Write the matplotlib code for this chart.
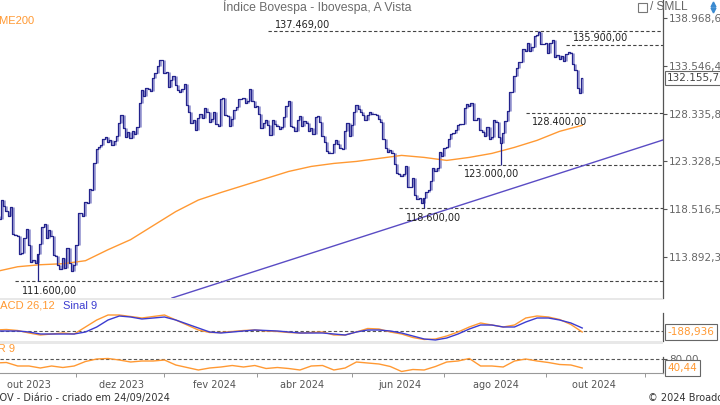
import numpy as np
import pandas as pd
import matplotlib
matplotlib.use("Agg")
import matplotlib.pyplot as plt
from matplotlib.patches import Rectangle
from matplotlib.lines import Line2D
from matplotlib.ticker import FixedLocator, FixedFormatter, NullLocator

# calendario de pregoes da B3
feriados = ["2023-09-07", "2023-10-12", "2023-11-02", "2023-11-15", "2023-12-25",
            "2023-12-29", "2024-01-01", "2024-02-12", "2024-02-13", "2024-03-29",
            "2024-05-01", "2024-05-30", "2024-11-15", "2024-11-20"]
inicio = "2023-09-11"

# fechamentos diarios (pontos)
fechamento = [
    # set/2023
    118000, 117800, 117600, 119400, 118800, 118300, 117800, 118700, 116100, 116000,
    115900, 114200, 114300, 115700, 116600,
    # out
    115060, 113420, 113610, 113280, 114170, 115160, 116740, 117050, 115750, 116530,
    115910, 114060, 114000, 113160, 112780, 113760, 112830, 114780, 113300, 112530,
    113140,
    # nov
    115050, 118160, 118160, 117800, 119270, 119180, 120570, 120410, 123170, 124640,
    124770, 125000, 125600, 125900, 125300, 125500, 125000, 125400, 126000, 127330,
    # dez
    128190, 126800, 125900, 126400, 125800, 126500, 126200, 126900, 129470, 130840,
    130200, 131080, 131000, 130800, 132180, 132750, 133530, 134190, 134190,
    # jan/2024
    132700, 132830, 131230, 132020, 132430, 131450, 130840, 130650, 130990, 131520,
    129290, 128520, 127320, 127640, 126600, 127820, 128260, 127820, 128970, 128500,
    127400, 127750,
    # fev
    128480, 127180, 126970, 129950, 130000, 128220, 128030, 127000, 127800, 128730,
    129040, 129920, 129900, 130000, 129420, 129670, 131000, 129700, 129020,
    # mar
    129180, 128340, 126800, 127320, 127660, 127070, 126120, 127670, 127240, 126980,
    126740, 126950, 128000, 129130, 129720, 127030, 126920, 126530, 127690, 128110,
    # abr
    127000, 127550, 127320, 126510, 126800, 126200, 128000, 128100, 127400, 125950,
    125330, 124390, 124170, 124200, 125120, 125570, 125150, 124740, 124650, 126530,
    127350, 125920,
    # mai
    127120, 128510, 129210, 128800, 128480, 128190, 127600, 128160, 128510, 128280,
    128280, 128150, 127750, 127410, 125650, 124730, 124310, 124500, 124200, 123020,
    122100,
    # jun
    122030, 121800, 122000, 122900, 120770, 120760, 121640, 119940, 119570, 119660,
    119140, 119630, 120260, 120450, 121340, 122640, 122330, 122640, 124310, 123910,
    # jul
    124720, 124790, 125660, 126160, 126270, 126550, 127110, 127220, 127220, 128900,
    129320, 129110, 129450, 127650, 127620, 127860, 126590, 126420, 125950, 126900,
    125700, 125900, 127650,
    # ago
    127400, 125850, 125270, 126270, 127510, 128660, 130620, 130630, 132400, 133320,
    133950, 134000, 135400, 135170, 136090, 135170, 135610, 136890, 137030, 137340,
    136040, 136000,
    # set
    136110, 134940, 136110, 136500, 134570, 134740, 134320, 134680, 134030, 134880,
    135120, 134960, 133750, 133120, 131070, 130570, 132155.76,
]

# MME200 lida a cada 10 pregoes
mme200 = [112504, 112975, 113164, 113258, 113543, 114589, 115551, 116910, 118283,
          119426, 120176, 120880, 121589, 122301, 122813, 123121, 123326, 123636,
          123946, 123739, 123430, 123739, 124153, 124777, 125508, 126454, 127091]

# MACD 26,12 / Sinal 9 / IFR 9 lidos a cada 5 pregoes
macd = [187, 280, 94, -374, -748, -561, -374, -561, 748, 2057,
        2992, 2992, 2712, 2431, 2712, 2992, 2057, 1122, 187, -281,
        -281, -94, 94, 187, 0, -94, -281, -374, -281, -187,
        -748, -748, -187, 468, 374, -187, -561, -1216, -1590, -1496,
        -935, -187, 748, 1496, 1122, 748, 1122, 2431, 2805, 2618,
        2150, 1215, -188.936]
sinal = [0, 0, 0, -187, -561, -561, -561, -561, -187, 748,
         2057, 2805, 2618, 2244, 2431, 2618, 2057, 1309, 561, -187,
         -374, -187, 0, 187, 94, 0, -187, -374, -374, -374,
         -561, -748, -187, 187, 187, 0, -374, -935, -1496, -1683,
         -1309, -561, 374, 1122, 1122, 748, 748, 1683, 2431, 2431,
         2057, 1496, 561]
ifr = [62.4, 64.6, 49.2, 49.2, 40.4, 49.2, 42.6, 49.2, 69.0, 80.0,
       82.2, 75.6, 66.8, 71.2, 71.2, 75.6, 53.6, 42.6, 31.6, 40.4,
       44.8, 51.4, 44.8, 51.4, 38.2, 42.6, 38.2, 31.6, 49.2, 51.4,
       31.6, 40.4, 66.8, 62.4, 58.0, 47.0, 25.0, 33.8, 31.6, 47.0,
       66.8, 71.2, 82.2, 49.2, 49.2, 44.8, 71.2, 80.0, 71.2, 64.6,
       55.8, 53.6, 40.44]

# suportes / resistencias
niveis = [137469, 135900, 128400, 123000, 118600, 111600]
niveis_inicio = ["2024-03-08", "2024-09-13", "2024-08-20", "2024-07-09",
                 "2024-06-03", "2023-09-22"]
niveis_acima = [True, True, False, False, False, False]

# pavios dos extremos marcados
extremos_data = ["2023-10-06", "2024-06-18", "2024-08-05", "2024-08-28"]
extremos_valor = [111600, 118600, 123000, 137469]

# linha de tendencia
tendencia_data = ["2024-01-05", "2024-11-05"]
tendencia_valor = [110050, 125110]

escala_precos = [113892.34, 118516.55, 123328.51, 128335.85, 133546.49, 138968.69]
meses = ["jan", "fev", "mar", "abr", "mai", "jun", "jul", "ago", "set", "out", "nov", "dez"]

AZUL = "#23238c"
LAVANDA = "#9d9dd4"
LARANJA = "#ff9933"
ROXO = "#5a4cc4"
AZUL_SINAL = "#3c3cd0"
CINZA = "#555555"

W, H = 720, 405


def caixa(x0, y0, x1, y1):
    return [x0 / W, 1 - y1 / H, (x1 - x0) / W, (y1 - y0) / H]


def br(v, casas=2):
    s = f"{v:,.{casas}f}"
    return s.replace(",", "X").replace(".", ",").replace("X", ".")


calendario = pd.bdate_range(inicio, "2024-11-29", freq="C", holidays=feriados)


def pos(d):
    return calendario.get_loc(pd.Timestamp(d))


n = len(fechamento)
x = np.arange(n)
f = np.array(fechamento, dtype=float)
x_ind = np.arange(0, n, 5)
x_mme = np.arange(0, n, 10)

px_dia = 2.258
x_esq = pos("2023-10-02") - 29 / px_dia
x_dir = pos("2023-10-02") + (663 - 29) / px_dia

fig = plt.figure(figsize=(7.2, 4.05), dpi=100)
ax = fig.add_axes(caixa(0, 0, 663, 298))
ax_macd = fig.add_axes(caixa(0, 300, 663, 341))
ax_ifr = fig.add_axes(caixa(0, 344, 663, 373))

for a in (ax, ax_macd, ax_ifr):
    a.set_xlim(x_esq, x_dir)
    for lado in ("top", "left", "bottom"):
        a.spines[lado].set_visible(False)
    a.spines["right"].set_color(CINZA)
    a.spines["right"].set_linewidth(0.9)
    a.set_xticks([])
    a.yaxis.tick_right()

# ---- painel de precos ----
ax.set_yscale("log")
ax.set_ylim(110072, 141064)
ax.yaxis.set_major_locator(FixedLocator(escala_precos))
ax.yaxis.set_major_formatter(FixedFormatter([br(v) for v in escala_precos]))
ax.yaxis.set_minor_locator(NullLocator())
ax.tick_params(axis="y", direction="out", length=3, color=CINZA, labelsize=7.5,
               labelcolor="#666666", pad=1.5)

# sombra clara + degraus escuros
ax.vlines(x[1:] - 0.05, np.minimum(f[:-1], f[1:]), np.maximum(f[:-1], f[1:]),
          color=LAVANDA, lw=2.0, zorder=2)
ax.plot(x, f, drawstyle="steps-mid", color=AZUL, lw=0.9, zorder=3)
for d, v in zip(extremos_data, extremos_valor):
    p = pos(d)
    ax.vlines(p, f[p], v, color=AZUL, lw=0.9, zorder=3)

ax.plot(x_mme, mme200, color=LARANJA, lw=1.0, zorder=2)
ax.axline((pos(tendencia_data[0]), tendencia_valor[0]),
          (pos(tendencia_data[1]), tendencia_valor[1]), color=ROXO, lw=1.0, zorder=2)

for v, d, acima in zip(niveis, niveis_inicio, niveis_acima):
    p0 = pos(d) if pd.Timestamp(d) >= calendario[0] else x_esq
    ax.hlines(v, p0, x_dir, colors="#444444", linestyles=(0, (3, 2)), lw=0.8, zorder=1)
    ax.annotate(br(v), (p0, v), xytext=(4.5, 1 if acima else -3),
                textcoords="offset points", va="bottom" if acima else "top",
                ha="left", fontsize=7, color="#222222")

ax.annotate(br(f[-1]), xy=(1, f[-1]), xycoords=("axes fraction", "data"),
            xytext=(3, 0), textcoords="offset points", va="center", ha="left",
            fontsize=7.5, color="#444444", annotation_clip=False,
            bbox=dict(boxstyle="square,pad=0.2", fc="white", ec="#666666", lw=0.8))

# ---- MACD ----
ax_macd.set_ylim(-1870, 5797)
ax_macd.set_yticks([])
ax_macd.spines["right"].set_bounds(-1870, 3366)
ax_macd.axhline(0, color=CINZA, ls=(0, (3, 2)), lw=0.8)
ax_macd.plot(x_ind, macd, color=LARANJA, lw=1.0)
ax_macd.plot(x_ind, sinal, color=AZUL_SINAL, lw=1.0)
ax_macd.annotate(br(macd[-1], 3), xy=(1, macd[-1]), xycoords=("axes fraction", "data"),
                 xytext=(3, 0), textcoords="offset points", va="center", ha="left",
                 fontsize=7.5, color=LARANJA, annotation_clip=False,
                 bbox=dict(boxstyle="square,pad=0.25", fc="white", ec="#666666", lw=0.8))

# ---- IFR ----
ax_ifr.set_ylim(18.4, 146)
ax_ifr.spines["right"].set_bounds(18.4, 88.8)
ax_ifr.spines["bottom"].set_visible(True)
ax_ifr.spines["bottom"].set_color("#999999")
ax_ifr.spines["bottom"].set_linewidth(0.8)
ax_ifr.set_yticks([80])
ax_ifr.set_yticklabels([br(80)])
ax_ifr.tick_params(axis="y", direction="out", length=3, color=CINZA, labelsize=7.5,
                   labelcolor="#666666", pad=1.5)
ax_ifr.axhline(80, color=CINZA, ls=(0, (3, 2)), lw=0.8)
ax_ifr.plot(x_ind, ifr, color=LARANJA, lw=1.0)
ax_ifr.annotate(br(ifr[-1]), xy=(1, ifr[-1]), xycoords=("axes fraction", "data"),
                xytext=(3, 0), textcoords="offset points", va="center", ha="left",
                fontsize=7.5, color=LARANJA, annotation_clip=False, zorder=5,
                bbox=dict(boxstyle="square,pad=0.25", fc="white", ec="#666666", lw=0.8))

# eixo de datas
rotulos_pos, rotulos_txt, menores = [], [], []
for mes in pd.date_range("2023-10-01", "2024-11-01", freq="MS"):
    p = int(np.searchsorted(calendario, mes))
    if mes.month % 2 == 0:
        rotulos_pos.append(p)
        rotulos_txt.append(f"{meses[mes.month - 1]} {mes.year}")
    else:
        menores.append(p)
ax_ifr.set_xticks(rotulos_pos)
ax_ifr.set_xticklabels(rotulos_txt)
ax_ifr.set_xticks(menores, minor=True)
ax_ifr.tick_params(axis="x", which="major", length=0, pad=5, labelsize=7, labelcolor=CINZA)
ax_ifr.tick_params(axis="x", which="minor", length=3, color="#888888")

# separadores
for y0, y1 in ((298, 300), (341, 344)):
    fig.add_artist(Rectangle((0, 1 - y1 / H), 663 / W, (y1 - y0) / H,
                             transform=fig.transFigure, color="#e8e8e8", lw=0))

# textos
fig.text(223 / W, 1 - 7 / H, "Índice Bovespa - Ibovespa, A Vista", family="Liberation Sans",
         fontsize=8.8, color="#6b6b6b", ha="left", va="center")
fig.text(34 / W, 1 - 21 / H, "MME200", family="Liberation Sans", fontsize=8,
         color=LARANJA, ha="right", va="center")
fig.text(55 / W, 1 - 306 / H, "MACD 26,12", family="Liberation Sans", fontsize=8,
         color=LARANJA, ha="right", va="center")
fig.text(63 / W, 1 - 306 / H, "Sinal 9", family="Liberation Sans", fontsize=8,
         color=AZUL_SINAL, ha="left", va="center")
fig.text(15 / W, 1 - 349 / H, "IFR 9", family="Liberation Sans", fontsize=8,
         color=LARANJA, ha="right", va="center")
fig.text(-9.5 / W, 1 - 398 / H, "IBOV - Diário - criado em 24/09/2024", fontsize=7,
         color="#333333", ha="left", va="center")
fig.text(648 / W, 1 - 398 / H, "© 2024 Broadcast", fontsize=7, color="#333333",
         ha="left", va="center")

fig.add_artist(Rectangle((638 / W, 1 - 11.5 / H), 8.5 / W, 8.5 / H,
                         transform=fig.transFigure, fill=False, ec="#777777", lw=0.8))
fig.text(650 / W, 1 - 7 / H, "/ SMLL", family="Liberation Sans", fontsize=8.6,
         color="#666666", ha="left", va="center")
fig.add_artist(Line2D([713 / W], [1 - 4 / H], marker="^", ms=3.5, color="#3a8ad0",
                      transform=fig.transFigure))
fig.add_artist(Line2D([713 / W], [1 - 9.5 / H], marker="v", ms=3.5, color="#3a8ad0",
                      transform=fig.transFigure))

print("ultimo pregao:", calendario[n - 1].date(), "n =", n)
fig.savefig("out.png", dpi=100)
